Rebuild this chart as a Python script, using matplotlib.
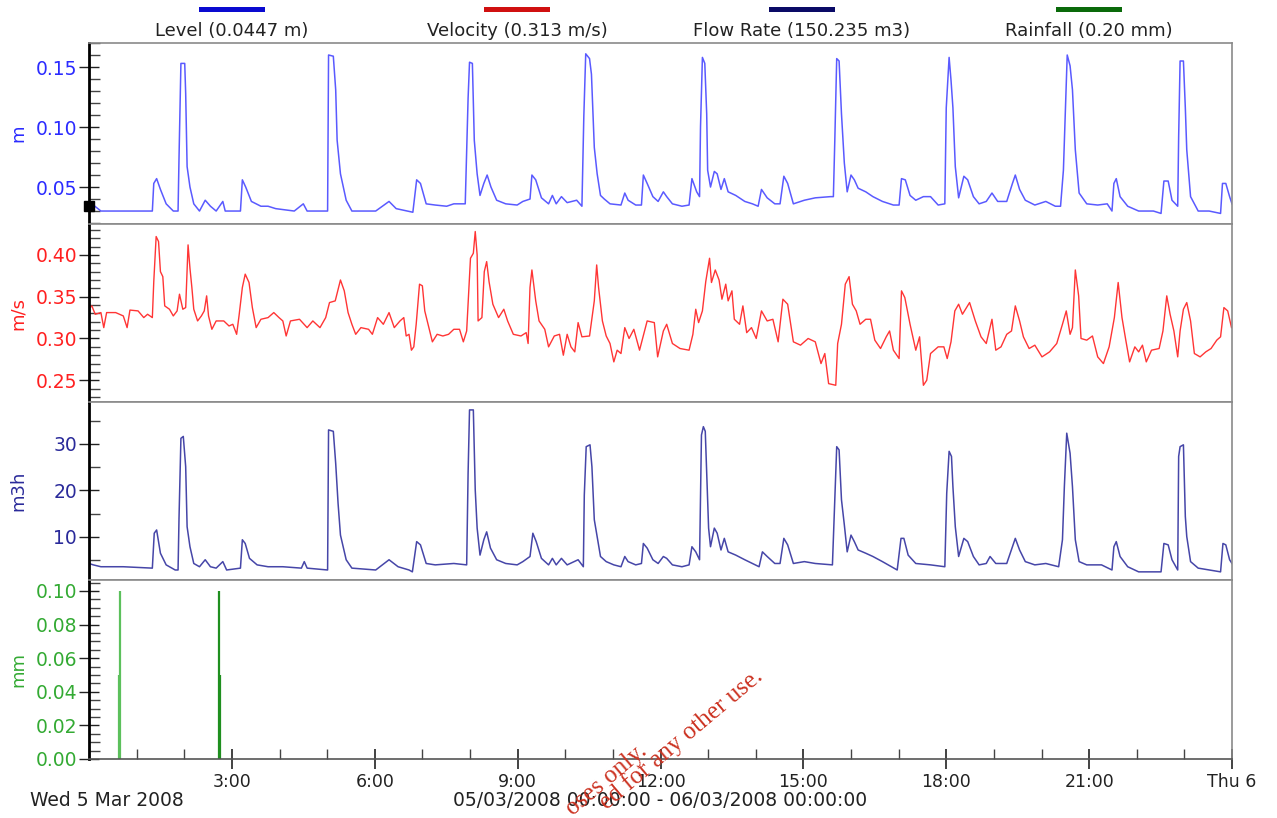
import matplotlib
matplotlib.use("Agg")
import matplotlib.pyplot as plt
from matplotlib.patches import Rectangle
from matplotlib.ticker import MultipleLocator, FixedLocator

# ---- data (hours since Wed 5 Mar 2008 00:00) ----
level_hours = [0.0, 0.06, 0.25, 0.72, 1.33, 1.36, 1.42, 1.50, 1.62, 1.77, 1.87, 1.89, 1.93, 2.01, 2.03, 2.06,
               2.12, 2.20, 2.32, 2.44, 2.55, 2.67, 2.81, 2.86, 3.18, 3.22, 3.29, 3.41, 3.61, 3.76, 3.92, 4.31,
               4.50, 4.58, 5.01, 5.03, 5.13, 5.18, 5.21, 5.28, 5.40, 5.52, 6.02, 6.30, 6.45, 6.80, 6.88, 6.96,
               7.08, 7.27, 7.51, 7.66, 7.90, 7.96, 7.99, 8.05, 8.09, 8.15, 8.21, 8.29, 8.36, 8.44, 8.56, 8.75,
               8.99, 9.11, 9.26, 9.30, 9.38, 9.50, 9.65, 9.73, 9.81, 9.92, 10.04, 10.24, 10.35, 10.39, 10.43,
               10.51, 10.55, 10.61, 10.67, 10.74, 10.82, 10.94, 11.17, 11.25, 11.32, 11.48, 11.60, 11.64, 11.72,
               11.84, 11.95, 12.06, 12.13, 12.25, 12.45, 12.60, 12.66, 12.76, 12.82, 12.84, 12.88, 12.93, 12.97,
               12.99, 13.05, 13.13, 13.19, 13.27, 13.34, 13.42, 13.58, 13.77, 13.93, 14.05, 14.12, 14.24, 14.40,
               14.51, 14.59, 14.67, 14.79, 15.02, 15.25, 15.57, 15.63, 15.66, 15.70, 15.75, 15.80, 15.86, 15.92,
               16.00, 16.07, 16.15, 16.31, 16.46, 16.66, 16.89, 17.01, 17.06, 17.14, 17.24, 17.36, 17.52, 17.67,
               17.83, 17.97, 18.00, 18.06, 18.10, 18.14, 18.19, 18.26, 18.37, 18.45, 18.57, 18.69, 18.84, 18.96,
               19.08, 19.27, 19.39, 19.45, 19.54, 19.66, 19.86, 20.09, 20.29, 20.40, 20.46, 20.50, 20.54, 20.60,
               20.65, 20.71, 20.79, 20.95, 21.18, 21.38, 21.48, 21.52, 21.57, 21.65, 21.81, 22.04, 22.35, 22.51,
               22.57, 22.66, 22.74, 22.86, 22.88, 22.91, 22.98, 23.02, 23.05, 23.13, 23.29, 23.52, 23.76, 23.80,
               23.87, 23.95, 24.0]
level_m = [0.034, 0.036, 0.030, 0.030, 0.030, 0.053, 0.057, 0.048, 0.036, 0.030, 0.030, 0.074, 0.153, 0.153, 0.128, 0.067,
           0.050, 0.036, 0.030, 0.039, 0.034, 0.030, 0.038, 0.030, 0.030, 0.056, 0.050, 0.038, 0.034, 0.034, 0.032, 0.030,
           0.036, 0.030, 0.030, 0.160, 0.159, 0.131, 0.089, 0.061, 0.039, 0.030, 0.030, 0.038, 0.032, 0.029, 0.056, 0.053,
           0.036, 0.035, 0.034, 0.036, 0.036, 0.124, 0.154, 0.153, 0.089, 0.061, 0.043, 0.053, 0.060, 0.050, 0.039, 0.036,
           0.035, 0.038, 0.040, 0.060, 0.056, 0.041, 0.036, 0.043, 0.036, 0.042, 0.037, 0.039, 0.034, 0.109, 0.161,
           0.157, 0.144, 0.083, 0.061, 0.043, 0.040, 0.036, 0.035, 0.045, 0.039, 0.035, 0.035, 0.060, 0.053,
           0.042, 0.038, 0.046, 0.042, 0.036, 0.034, 0.035, 0.057, 0.046, 0.042, 0.100, 0.158, 0.153, 0.111,
           0.064, 0.050, 0.063, 0.061, 0.048, 0.057, 0.046, 0.043, 0.038, 0.036, 0.034, 0.048, 0.041, 0.036,
           0.036, 0.059, 0.053, 0.036, 0.039, 0.041, 0.042, 0.042, 0.089, 0.157, 0.155, 0.111, 0.070, 0.046,
           0.060, 0.056, 0.049, 0.046, 0.042, 0.038, 0.035, 0.035, 0.057, 0.056, 0.043, 0.039, 0.042, 0.042,
           0.035, 0.036, 0.116, 0.158, 0.139, 0.116, 0.067, 0.041, 0.059, 0.056, 0.042, 0.036, 0.038, 0.045,
           0.038, 0.038, 0.053, 0.060, 0.048, 0.039, 0.035, 0.038, 0.034, 0.034, 0.064, 0.111, 0.160, 0.151,
           0.131, 0.081, 0.045, 0.036, 0.035, 0.036, 0.030, 0.053, 0.057, 0.042, 0.034, 0.030, 0.030, 0.028,
           0.055, 0.055, 0.039, 0.034, 0.092, 0.155, 0.155, 0.116, 0.081, 0.042, 0.030, 0.030, 0.028, 0.053,
           0.053, 0.042, 0.036]

vel_hours = [0.0, 0.06, 0.13, 0.25, 0.31, 0.37, 0.56, 0.72, 0.80, 0.86, 1.03, 1.15, 1.23, 1.33, 1.36, 1.41, 1.46,
             1.50, 1.55, 1.59, 1.69, 1.77, 1.85, 1.90, 1.97, 2.03, 2.08, 2.12, 2.16, 2.20, 2.28, 2.36, 2.42, 2.47,
             2.51, 2.58, 2.67, 2.83, 2.94, 3.02, 3.10, 3.15, 3.22, 3.28, 3.36, 3.43, 3.51, 3.61, 3.76, 3.88, 3.99,
             4.07, 4.14, 4.23, 4.42, 4.58, 4.70, 4.85, 4.97, 5.05, 5.17, 5.28, 5.36, 5.44, 5.52, 5.60, 5.71, 5.87,
             5.95, 6.06, 6.18, 6.30, 6.41, 6.53, 6.61, 6.66, 6.72, 6.77, 6.82, 6.87, 6.94, 7.00, 7.05, 7.12, 7.21,
             7.31, 7.43, 7.55, 7.66, 7.78, 7.86, 7.93, 8.01, 8.07, 8.11, 8.15, 8.17, 8.25, 8.30, 8.35, 8.40, 8.48,
             8.60, 8.71, 8.79, 8.91, 9.07, 9.18, 9.22, 9.26, 9.30, 9.38, 9.45, 9.57, 9.65, 9.77, 9.88, 9.96, 10.04,
             10.12, 10.20, 10.27, 10.35, 10.51, 10.61, 10.66, 10.70, 10.78, 10.86, 10.94, 11.02, 11.09, 11.17,
             11.25, 11.34, 11.44, 11.56, 11.72, 11.87, 11.94, 12.06, 12.13, 12.25, 12.41, 12.60, 12.68, 12.74,
             12.80, 12.88, 12.95, 13.03, 13.07, 13.15, 13.23, 13.29, 13.37, 13.42, 13.50, 13.55, 13.66, 13.73,
             13.81, 13.91, 14.01, 14.12, 14.24, 14.36, 14.47, 14.57, 14.67, 14.79, 14.94, 15.10, 15.25, 15.37,
             15.45, 15.53, 15.68, 15.72, 15.80, 15.88, 15.96, 16.03, 16.11, 16.19, 16.31, 16.41, 16.50, 16.62,
             16.74, 16.81, 16.89, 17.01, 17.06, 17.13, 17.24, 17.36, 17.44, 17.52, 17.59, 17.67, 17.83, 17.95,
             18.02, 18.10, 18.18, 18.26, 18.34, 18.49, 18.61, 18.73, 18.84, 18.96, 19.04, 19.15, 19.27, 19.37,
             19.45, 19.54, 19.62, 19.74, 19.86, 20.01, 20.17, 20.32, 20.44, 20.52, 20.60, 20.65, 20.71, 20.78,
             20.83, 20.95, 21.07, 21.18, 21.30, 21.42, 21.53, 21.61, 21.69, 21.77, 21.85, 21.96, 22.04, 22.12,
             22.20, 22.31, 22.47, 22.55, 22.63, 22.70, 22.78, 22.86, 22.91, 22.98, 23.05, 23.13, 23.21, 23.33,
             23.45, 23.56, 23.68, 23.76, 23.83, 23.91, 23.99]
vel_ms = [0.336, 0.339, 0.329, 0.331, 0.313, 0.331, 0.331, 0.327, 0.313, 0.334, 0.333, 0.325, 0.329, 0.325, 0.368, 0.422, 0.416,
          0.380, 0.374, 0.339, 0.335, 0.327, 0.333, 0.353, 0.335, 0.337, 0.412, 0.384, 0.361, 0.335, 0.321, 0.327, 0.333, 0.351,
          0.327, 0.311, 0.321, 0.321, 0.315, 0.317, 0.305, 0.327, 0.361, 0.377, 0.367, 0.337, 0.313, 0.323, 0.325, 0.331, 0.325,
          0.321, 0.303, 0.321, 0.323, 0.313, 0.321, 0.313, 0.325, 0.343, 0.345, 0.370, 0.357, 0.331, 0.317, 0.305, 0.313, 0.311,
          0.305, 0.325, 0.317, 0.331, 0.313, 0.321, 0.325, 0.303, 0.305, 0.286, 0.290, 0.317, 0.365, 0.363, 0.333, 0.317, 0.296,
          0.305, 0.303, 0.305, 0.311, 0.311, 0.296, 0.309, 0.396, 0.402, 0.428, 0.400, 0.321, 0.325, 0.380, 0.392, 0.368, 0.341,
          0.325, 0.335, 0.321, 0.305, 0.303, 0.307, 0.294, 0.361, 0.382, 0.345, 0.321, 0.311, 0.290, 0.303, 0.305, 0.280, 0.305,
          0.290, 0.284, 0.319, 0.302, 0.303, 0.345, 0.388, 0.361, 0.321, 0.303, 0.294, 0.272, 0.286, 0.282,
          0.313, 0.300, 0.311, 0.286, 0.321, 0.319, 0.278, 0.309, 0.317, 0.294, 0.288, 0.286, 0.305, 0.335,
          0.319, 0.333, 0.368, 0.396, 0.367, 0.382, 0.370, 0.347, 0.365, 0.345, 0.357, 0.323, 0.317, 0.339,
          0.307, 0.313, 0.300, 0.333, 0.321, 0.323, 0.296, 0.347, 0.341, 0.296, 0.292, 0.300, 0.296, 0.270,
          0.282, 0.246, 0.244, 0.294, 0.317, 0.365, 0.374, 0.341, 0.333, 0.317, 0.323, 0.323, 0.298, 0.288,
          0.302, 0.309, 0.286, 0.276, 0.357, 0.349, 0.317, 0.286, 0.302, 0.244, 0.250, 0.282, 0.290, 0.290,
          0.276, 0.296, 0.333, 0.341, 0.329, 0.343, 0.321, 0.302, 0.294, 0.323, 0.286, 0.290, 0.305, 0.309,
          0.339, 0.321, 0.302, 0.288, 0.292, 0.278, 0.284, 0.294, 0.317, 0.333, 0.305, 0.313, 0.382, 0.351,
          0.300, 0.298, 0.303, 0.278, 0.270, 0.290, 0.325, 0.367, 0.325, 0.298, 0.272, 0.290, 0.284, 0.292,
          0.272, 0.286, 0.288, 0.309, 0.351, 0.329, 0.309, 0.278, 0.309, 0.335, 0.343, 0.321, 0.282, 0.278,
          0.284, 0.288, 0.298, 0.302, 0.337, 0.333, 0.313]

flow_hours = [0.0, 0.09, 0.25, 0.72, 1.33, 1.37, 1.42, 1.50, 1.62, 1.81, 1.87, 1.89, 1.93, 1.98, 2.03, 2.06, 2.12,
              2.20, 2.32, 2.44, 2.55, 2.67, 2.81, 2.89, 3.18, 3.22, 3.28, 3.37, 3.53, 3.76, 4.07, 4.46, 4.52, 4.58,
              5.01, 5.03, 5.13, 5.18, 5.23, 5.28, 5.40, 5.52, 6.02, 6.30, 6.49, 6.72, 6.79, 6.88, 6.96, 7.08, 7.27,
              7.66, 7.93, 7.96, 7.99, 8.07, 8.11, 8.15, 8.21, 8.29, 8.35, 8.43, 8.56, 8.75, 8.99, 9.11, 9.26, 9.32,
              9.39, 9.50, 9.65, 9.73, 9.81, 9.92, 10.04, 10.27, 10.38, 10.40, 10.44, 10.52, 10.56, 10.61, 10.67,
              10.74, 10.86, 11.02, 11.17, 11.25, 11.32, 11.48, 11.60, 11.64, 11.72, 11.84, 11.95, 12.06, 12.13,
              12.25, 12.45, 12.60, 12.66, 12.74, 12.82, 12.84, 12.86, 12.90, 12.94, 12.97, 13.01, 13.05, 13.13,
              13.19, 13.27, 13.34, 13.42, 13.58, 13.77, 13.93, 14.07, 14.14, 14.24, 14.40, 14.51, 14.59, 14.67,
              14.79, 15.02, 15.25, 15.61, 15.66, 15.70, 15.75, 15.80, 15.86, 15.92, 16.00, 16.07, 16.15, 16.31,
              16.46, 16.66, 16.97, 17.05, 17.11, 17.20, 17.36, 17.67, 17.97, 18.01, 18.06, 18.11, 18.14, 18.19,
              18.26, 18.37, 18.45, 18.57, 18.69, 18.84, 18.92, 19.04, 19.27, 19.39, 19.45, 19.54, 19.66, 19.86,
              20.09, 20.36, 20.44, 20.48, 20.53, 20.60, 20.65, 20.71, 20.79, 20.95, 21.26, 21.48, 21.52, 21.57,
              21.65, 21.81, 22.04, 22.51, 22.57, 22.66, 22.74, 22.86, 22.88, 22.91, 22.98, 23.02, 23.05, 23.13,
              23.29, 23.52, 23.76, 23.81, 23.87, 23.95, 24.0]
flow_m3h = [4.3, 4.0, 3.6, 3.6, 3.3, 10.8, 11.5, 6.5, 4.0, 2.9, 2.9, 14.0, 31.2, 31.6, 25.1, 12.2, 7.9,
            4.3, 3.6, 5.1, 3.6, 3.3, 4.7, 2.9, 3.3, 9.4, 8.6, 5.4, 4.0, 3.6, 3.6, 3.3, 4.7, 3.3,
            2.9, 33.0, 32.7, 25.8, 17.2, 10.4, 5.1, 3.3, 2.9, 5.1, 3.6, 2.9, 2.5, 9.0, 8.3, 4.3, 4.0,
            4.3, 4.0, 23.7, 37.3, 37.3, 20.1, 11.9, 6.1, 9.4, 11.1, 7.6, 5.1, 4.3, 4.0, 4.7, 5.8, 10.8,
            9.0, 5.4, 4.0, 5.4, 4.0, 5.4, 4.0, 5.1, 3.6, 19.0, 29.4, 29.8, 25.1, 13.7, 10.1,
            5.8, 4.7, 4.0, 3.6, 5.8, 4.7, 4.0, 4.3, 8.6, 7.6, 5.1, 4.3, 5.8, 5.4,
            4.0, 3.6, 4.0, 7.9, 6.8, 5.1, 18.0, 31.9, 33.7, 32.7, 23.7, 11.9, 7.9, 11.9,
            10.8, 7.2, 9.7, 6.8, 6.1, 5.1, 4.3, 3.6, 6.8, 5.8, 4.3, 4.3, 9.7, 8.3,
            4.3, 4.7, 4.3, 4.0, 18.0, 29.4, 28.7, 18.0, 12.6, 6.8, 10.4, 9.0, 7.2, 6.5,
            5.8, 4.7, 2.9, 9.7, 9.7, 6.1, 4.3, 4.0, 3.6, 19.4, 28.4, 27.3, 20.8, 12.2,
            5.8, 9.7, 9.0, 5.8, 4.0, 4.3, 5.8, 4.3, 4.3, 7.9, 9.7, 7.2, 4.7, 4.0,
            4.3, 3.6, 9.4, 20.8, 32.3, 28.0, 20.8, 9.4, 4.7, 4.0, 4.0, 2.9, 7.9, 9.0,
            5.8, 3.6, 2.5, 2.5, 8.6, 8.3, 5.1, 2.9, 27.3, 29.4, 29.8, 14.4, 10.1, 4.7,
            3.3, 2.9, 2.5, 8.6, 8.3, 5.1, 4.3]

rain_hours = [0.63, 0.66, 2.73, 2.76]
rain_mm = [0.05, 0.10, 0.10, 0.05]
rain_colors = ["#5cc05c", "#5cc05c", "#1f8f1f", "#1f8f1f"]

legend_labels = ["Level (0.0447 m)", "Velocity (0.313 m/s)", "Flow Rate (150.235 m3)", "Rainfall (0.20 mm)"]
legend_colors = ["#0a0ad0", "#d01010", "#0a0a66", "#0a6a0a"]

x_major = [3, 6, 9, 12, 15, 18, 21, 24]
x_labels = ["3:00", "6:00", "9:00", "12:00", "15:00", "18:00", "21:00", "Thu 6"]

# ---- figure ----
W, H = 1277, 818
fig = plt.figure(figsize=(W / 100, H / 100), dpi=100)
plt.rcParams['font.family'] = ['DejaVu Sans']

left = 89 / W
width = (1232 - 89) / W
edges = [43, 224, 402, 580, 759]

panels = [
    # (name, ylim, major ticks, minor step, format, tick colour, unit label)
    ("level", (0.0192, 0.17), [0.05, 0.10, 0.15], 0.01, "{:.2f}", "#2b2bff", "m"),
    ("vel", (0.224, 0.437), [0.25, 0.30, 0.35, 0.40], 0.01, "{:.2f}", "#ff2020", "m/s"),
    ("flow", (0.75, 39.0), [10, 20, 30], 5, "{:.0f}", "#2a2a9a", "m3h"),
    ("rain", (0.0, 0.1065), [0.0, 0.02, 0.04, 0.06, 0.08, 0.10], 0.005, "{:.2f}", "#33aa33", "mm"),
]

axes = []
for i, (name, ylim, major, minor, fmt, tcol, unit) in enumerate(panels):
    top, bot = edges[i], edges[i + 1]
    ax = fig.add_axes([left, 1 - bot / H, width, (bot - top) / H])
    ax.set_xlim(0, 24)
    ax.set_ylim(*ylim)
    ax.yaxis.set_major_locator(FixedLocator(major))
    ax.set_yticklabels([fmt.format(v) for v in major])
    ax.yaxis.set_minor_locator(MultipleLocator(minor))
    ax.tick_params(axis='y', which='major', direction='inout', length=15, width=1,
                   labelsize=13.5, labelcolor=tcol, pad=1, color='#222222')
    ax.tick_params(axis='y', which='minor', direction='in', length=8, width=1, color='#444444')
    for s in ['top', 'right', 'bottom']:
        ax.spines[s].set_color('#8a8a8a')
        ax.spines[s].set_linewidth(1.2)
    ax.spines['left'].set_color('black')
    ax.spines['left'].set_linewidth(2)
    fig.text(18 / W, 1 - ((top + bot) / 2) / H, unit, rotation=90, color=tcol,
             fontsize=13, ha='center', va='center')
    if name != "rain":
        ax.tick_params(axis='x', which='both', bottom=False, labelbottom=False)
    axes.append(ax)

ax_l, ax_v, ax_f, ax_r = axes
ax_l.plot(level_hours, level_m, color="#5a5aff", lw=1.1)
ax_l.plot([0], [0.034], marker='s', color='black', ms=7, clip_on=False)
ax_v.plot(vel_hours, vel_ms, color="#ff3535", lw=1.0)
ax_f.plot(flow_hours, flow_m3h, color="#4646a8", lw=1.1)
ax_r.vlines(rain_hours, 0, rain_mm, colors=rain_colors, lw=1.6)

ax_r.spines['bottom'].set_color('#555555')
ax_r.xaxis.set_major_locator(FixedLocator(x_major))
ax_r.set_xticklabels(x_labels)
ax_r.xaxis.set_minor_locator(MultipleLocator(1))
ax_r.tick_params(axis='x', which='major', direction='inout', length=14, width=1.2,
                 labelsize=12.5, labelcolor='#222222', pad=3, color='#222222')
ax_r.tick_params(axis='x', which='minor', direction='in', length=7, width=1, color='#444444')

fig.text(30 / W, 1 - 801 / H, "Wed 5 Mar 2008", fontsize=13.5, color='#222222', ha='left', va='center')
fig.text(660 / W, 1 - 801 / H, "05/03/2008 00:00:00 - 06/03/2008 00:00:00", fontsize=13.5,
         color='#222222', ha='center', va='center')

# legend along the top
legend_x = [232, 517, 802, 1089]
for lx, lab, col in zip(legend_x, legend_labels, legend_colors):
    fig.add_artist(Rectangle(((lx - 33) / W, 1 - 12 / H), 66 / W, 5 / H,
                             transform=fig.transFigure, color=col, lw=0))
    fig.text(lx / W, 1 - 31 / H, lab, fontsize=13, color='#222222', ha='center', va='center')

# partially visible watermark (runs off the bottom edge, as in the original)
fig.text(648 / W, 1 - 753 / H, "oses only.", rotation=40, rotation_mode='anchor',
         ha='right', va='baseline', color='#cc3322', fontsize=18, family='Liberation Serif')
fig.text(752 / W, 1 - 664 / H, "ed for any other use.", rotation=40, rotation_mode='anchor',
         ha='right', va='top', color='#cc3322', fontsize=18, family='Liberation Serif')

fig.savefig("out.png", dpi=100, facecolor='white')
